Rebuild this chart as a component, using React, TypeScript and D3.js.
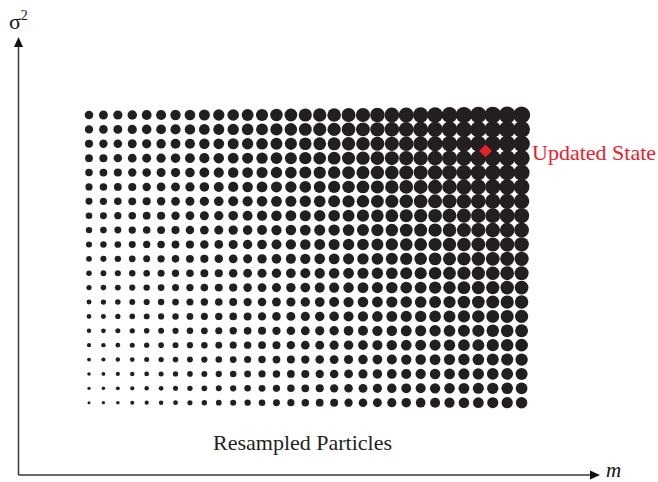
import React from "react";
import * as d3 from "d3";

// grid of particle positions: m index (columns) and sigma^2 index (rows, 0 = bottom)
const mIndex = [0, 1, 2, 3, 4, 5, 6, 7, 8, 9, 10, 11, 12, 13, 14, 15, 16, 17, 18, 19, 20, 21, 22, 23, 24, 25, 26, 27, 28, 29, 30];
const sigmaIndex = [0, 1, 2, 3, 4, 5, 6, 7, 8, 9, 10, 11, 12, 13, 14, 15, 16, 17, 18, 19, 20];

// particle radius: bottom-row radius per column, extra radius per row
const colRadius = [1.5, 1.65, 1.8, 1.95, 2.1, 2.25, 2.4, 2.55, 2.7, 2.85, 3.0, 3.15, 3.3, 3.45, 3.6, 3.75, 3.9, 4.0, 4.15, 4.3, 4.45, 4.6, 4.75, 4.85, 5.0, 5.15, 5.3, 5.4, 5.55, 5.65, 5.75];
const rowExtra = [0, 0.14, 0.28, 0.42, 0.56, 0.7, 0.84, 0.98, 1.12, 1.26, 1.4, 1.54, 1.68, 1.82, 1.96, 2.1, 2.24, 2.38, 2.52, 2.66, 2.8];

// updated state sits in the gap between columns 27/28 and rows 17/18
const updatedState = { m: 27.5, sigma: 17.5 };

const W = 658;
const H = 482;

export default function App() {
  const x = d3.scaleLinear().domain([0, 30]).range([89, 521.6]);
  const y = d3.scaleLinear().domain([0, 20]).range([402.7, 115]);

  const dots: { cx: number; cy: number; r: number; key: string }[] = [];
  sigmaIndex.forEach((s) => {
    mIndex.forEach((m) => {
      dots.push({ cx: x(m), cy: y(s), r: colRadius[m] + rowExtra[s], key: m + "-" + s });
    });
  });

  const diamond = d3.symbol().type(d3.symbolSquare).size(82)();
  const axisColor = "#3a3a3a";
  const ox = 18.5;
  const oy = 475;

  return (
    <svg width={W} height={H} style={{ position: "absolute", left: 0, top: 0 }}>
      <rect width={W} height={H} fill="#fff" />
      {/* axes */}
      <line x1={ox} y1={oy} x2={ox} y2={46} stroke={axisColor} strokeWidth={1.5} />
      <line x1={ox} y1={oy} x2={591} y2={oy} stroke={axisColor} strokeWidth={1.5} />
      <path d={`M${ox},37 L${ox - 4.5},47 L${ox + 4.5},47 Z`} fill="#111" />
      <path d={`M600,${oy} L590,${oy - 4.5} L590,${oy + 4.5} Z`} fill="#111" />
      <text x={9} y={29} fontFamily="'Liberation Serif', serif" fontSize={22} fill="#111">
        σ<tspan fontSize={14} dy={-9}>2</tspan>
      </text>
      <text x={606} y={477} fontFamily="'Liberation Serif', serif" fontStyle="italic" fontSize={21} fill="#111">
        m
      </text>
      {/* particles */}
      <g fill="#231f20">
        {dots.map((d) => (
          <circle key={d.key} cx={d.cx} cy={d.cy} r={d.r} />
        ))}
      </g>
      <path
        d={diamond || ""}
        transform={`translate(${x(updatedState.m)},${y(updatedState.sigma)}) rotate(45)`}
        fill="#e8202a"
      />
      <text x={532} y={160} fontFamily="'Liberation Serif', serif" fontSize={22} fill="#e8202a">
        Updated State
      </text>
      <text x={213} y={450} fontFamily="'Liberation Serif', serif" fontSize={22} fill="#231f20">
        Resampled Particles
      </text>
    </svg>
  );
}
